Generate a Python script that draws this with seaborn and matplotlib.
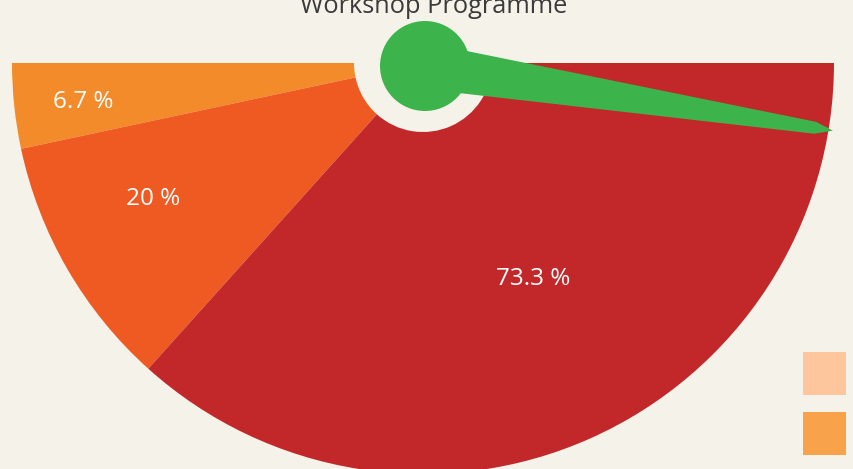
import numpy as np
import seaborn as sns
import matplotlib.pyplot as plt
from matplotlib.patches import Circle, Polygon, Rectangle

# gauge data
segments = ["6.7 %", "20 %", "73.3 %"]
shares = [6.7, 20, 73.3]
seg_colors = ["#F38B2A", "#EE5A22", "#C2282A"]
needle_value = 95
legend_colors = ["#FDC69C", "#F9A24C"]
title = "Workshop Programme"

sns.set_theme(style="white")
plt.rcParams['font.family'] = ['Open Sans', 'DejaVu Sans']

bg = "#F4F2E9"
fig = plt.figure(figsize=(8.54, 4.69), dpi=100, facecolor=bg)
ax = fig.add_axes([0, 0, 1, 1])
ax.set_facecolor(bg)

cx, cy, R, r_hole = 423, -63, 411, 69

# half pie: add hidden half so the visible slices span 180 degrees
wedges, _ = ax.pie(shares + [sum(shares)], colors=seg_colors + ["none"],
                   startangle=180, counterclock=True, center=(cx, cy), radius=R,
                   wedgeprops=dict(width=R - r_hole, edgecolor="none", linewidth=0),
                   frame=True)
wedges[-1].set_visible(False)

# labels near slice middles
label_r = [342, 301, 240]
label_shift = [0, -3.8, 3.2]  # degrees
cum = np.cumsum([0] + shares)
for i, lab in enumerate(segments):
    mid = (cum[i] + cum[i + 1]) / 2
    th = np.deg2rad(180 + mid / 100 * 180 + label_shift[i])
    ax.text(cx + label_r[i] * np.cos(th), cy + label_r[i] * np.sin(th) - 3, lab,
            color="white", fontsize=17.5, ha="center", va="center")

# needle: tapered shape from hub to tip
nx, ny = cx + 2, cy - 3
th = np.deg2rad(180 + needle_value / 100 * 180)
u = np.array([np.cos(th), np.sin(th)])
n = np.array([-np.sin(th), np.cos(th)])
hub = np.array([nx, ny])
L = 413
pts = [hub + 23 * n, hub + 395 * u + 6 * n, hub + L * u,
       hub + 395 * u - 6 * n, hub - 23 * n]
ax.add_patch(Polygon(pts, closed=True, color="#3CB44B", lw=0, zorder=5))
ax.add_patch(Circle((nx, ny), 45, color="#3CB44B", lw=0, zorder=6))

# legend swatches (labels fall outside the canvas)
for i, c in enumerate(legend_colors):
    ax.add_patch(Rectangle((803, -395 - i * 60), 43, 43, color=c, lw=0, zorder=4))

ax.text(434, -13, title, color="#3B3B3B", fontsize=18.3, ha="center", va="baseline")

ax.set_xlim(0, 854)
ax.set_ylim(-469, 0)
ax.set_aspect("equal")
ax.axis("off")
fig.savefig("out.png", dpi=100, facecolor=bg)
